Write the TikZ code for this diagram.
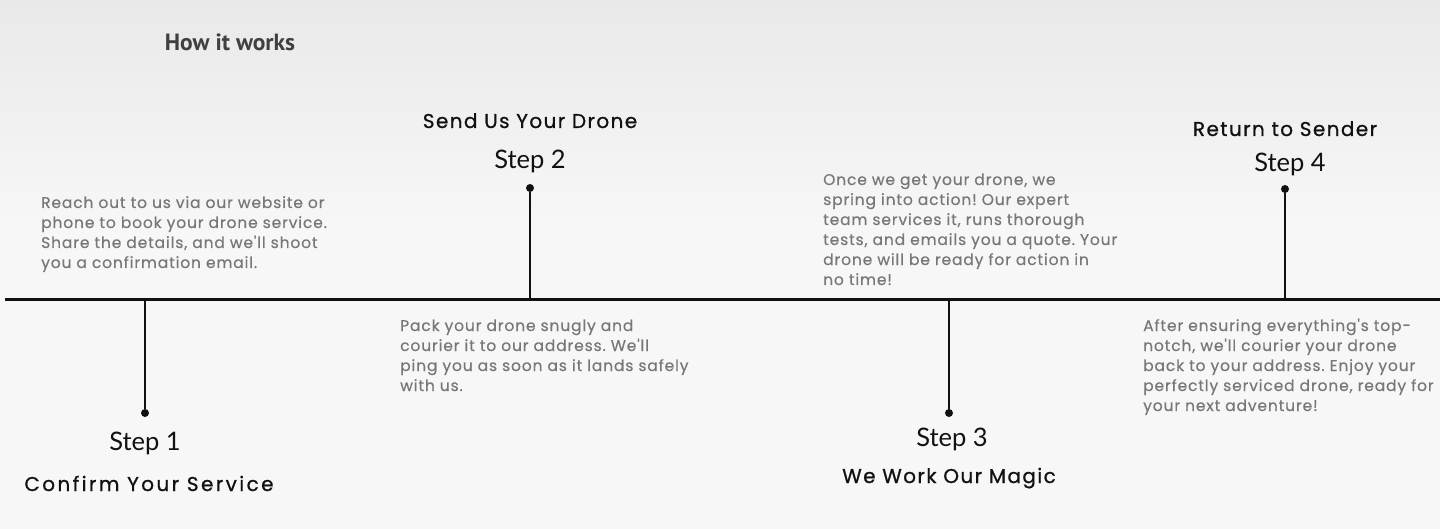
\documentclass[tikz,border=0pt]{standalone}
\usepackage{fontspec}
\setmainfont{Lato}
\newfontfamily\bodyfont{Poppins}
\newfontfamily\headfont{PT Sans}
\definecolor{txt}{HTML}{777777}
\definecolor{ink}{HTML}{111111}
\definecolor{bgtop}{HTML}{E9E9E9}
\definecolor{bgbot}{HTML}{F7F7F7}
\frenchspacing
\begin{document}
\begin{tikzpicture}[x=1pt,y=-1pt,line join=round,line cap=round,
dot/.style={circle,fill=ink,inner sep=0pt,minimum size=8pt},
steplabel/.style={anchor=base,inner sep=0pt,text=ink,font=\fontsize{25.5}{28}\selectfont},
title/.style={anchor=base,inner sep=0pt,text=ink,font=\bodyfont\fontsize{20}{22}\selectfont\addfontfeatures{LetterSpace=7,FakeBold=0.8}},
widetitle/.style={title,font=\bodyfont\fontsize{20}{22}\selectfont\addfontfeatures{LetterSpace=12,FakeBold=0.8}},
desc/.style={anchor=base west,align=left,inner sep=0pt,text=txt,font=\bodyfont\fontsize{15.5}{20}\selectfont\addfontfeatures{LetterSpace=5.5,FakeBold=0.4}}]
% background
\fill[bgbot] (0,0) rectangle (1440,529);
\shade[top color=bgtop,bottom color=bgbot] (0,0) rectangle (1440,230);
\useasboundingbox (0,0) rectangle (1440,529);
\node[anchor=base,inner sep=0pt,text=black!75,font=\headfont\bfseries\fontsize{23.5}{26}\selectfont] (how) at (230,51) {How it works};
% timeline
\coordinate (L) at (5,300);
\coordinate (R) at (1440,300);
\draw[ink,line width=3pt,line cap=butt] (L)--(R);
% step 1
\coordinate (b1) at (145,300);
\node[dot] (d1) at (145,413) {};
\draw[ink,line width=1.3pt] (b1)--(d1);
\node[steplabel] (s1) at (145,450) {Step 1};
\node[widetitle] (t1) at (149,491) {Confirm Your Service};
\node[desc] (x1) at (41,268) {Reach out to us via our website or\\phone to book your drone service.\\Share the details, and we'll shoot\\you a confirmation email.};
% step 2
\coordinate (b2) at (530,300);
\node[dot] (d2) at (530,188) {};
\draw[ink,line width=1.3pt] (b2)--(d2);
\node[steplabel] (s2) at (530,169) {Step 2};
\node[title] (t2) at (530,128) {Send Us Your Drone};
\node[desc] (x2) at (400,391) {Pack your drone snugly and\\courier it to our address. We'll\\ping you as soon as it lands safely\\with us.};
% step 3
\coordinate (b3) at (949,300);
\node[dot] (d3) at (949,413) {};
\draw[ink,line width=1.3pt] (b3)--(d3);
\node[steplabel] (s3) at (952,446) {Step 3};
\node[title] (t3) at (949,483) {We Work Our Magic};
\node[desc] (x3) at (823,285) {Once we get your drone, we\\spring into action! Our expert\\team services it, runs thorough\\tests, and emails you a quote. Your\\drone will be ready for action in\\no time!};
% step 4
\coordinate (b4) at (1285,300);
\node[dot] (d4) at (1285,189) {};
\draw[ink,line width=1.3pt] (b4)--(d4);
\node[steplabel] (s4) at (1290,172) {Step 4};
\node[title] (t4) at (1285,136) {Return to Sender};
\node[desc] (x4) at (1143,411) {After ensuring everything's top-\\notch, we'll courier your drone\\back to your address. Enjoy your\\perfectly serviced drone, ready for\\your next adventure!};
\end{tikzpicture}
\end{document}
